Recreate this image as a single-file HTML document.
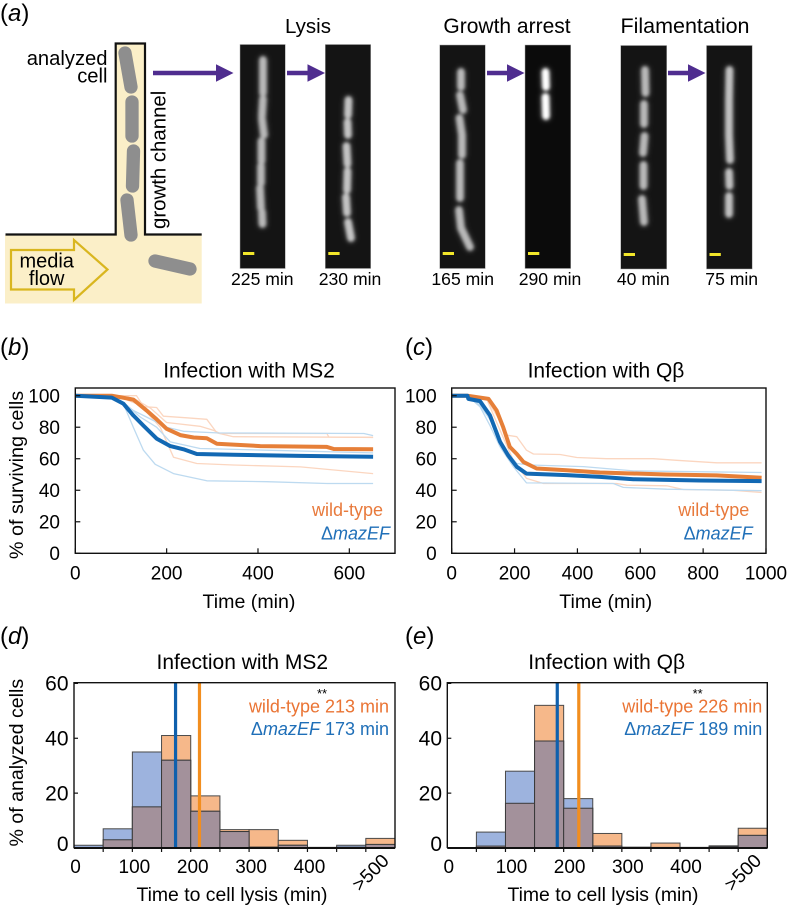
<!DOCTYPE html>
<html lang="en">
<head>
<meta charset="utf-8">
<title>Infection outcome figure</title>
<style>
html,body{margin:0;padding:0;background:#fff;}
svg{display:block;font-family:"Liberation Sans",Arial,sans-serif;}
</style>
</head>
<body>
<svg id="fig" xmlns="http://www.w3.org/2000/svg" width="787" height="906" viewBox="0 0 787 906">
<defs>
<filter id="b1" filterUnits="userSpaceOnUse" x="0" y="0" width="787" height="320"><feGaussianBlur stdDeviation="1.5"/></filter>
<filter id="b2" filterUnits="userSpaceOnUse" x="0" y="0" width="787" height="320"><feGaussianBlur stdDeviation="3"/></filter>
</defs>
<g id="panel-a"></g>
<g id="panel-b"></g>
<g id="panel-c"></g>
<g id="panel-d"></g>
<g id="panel-e"></g>

<text x="0" y="21" font-size="24">(<tspan font-style="italic">a</tspan>)</text>
<text x="0" y="355" font-size="24">(<tspan font-style="italic">b</tspan>)</text>
<text x="405" y="355" font-size="24">(<tspan font-style="italic">c</tspan>)</text>
<text x="0" y="644" font-size="24">(<tspan font-style="italic">d</tspan>)</text>
<text x="405" y="644" font-size="24">(<tspan font-style="italic">e</tspan>)</text>

<text x="308" y="33" font-size="20.5" text-anchor="middle">Lysis</text>
<text x="507" y="33" font-size="21" text-anchor="middle">Growth arrest</text>
<text x="685" y="33" font-size="21.5" text-anchor="middle">Filamentation</text>

<text x="262.3" y="285" font-size="17.6" text-anchor="middle">225 min</text>
<text x="350" y="285" font-size="17.6" text-anchor="middle">230 min</text>
<text x="462.7" y="285" font-size="17.6" text-anchor="middle">165 min</text>
<text x="550" y="285" font-size="17.6" text-anchor="middle">290 min</text>
<text x="643.3" y="285" font-size="17.6" text-anchor="middle">40 min</text>
<text x="731.7" y="285" font-size="17.6" text-anchor="middle">75 min</text>

<text x="107.5" y="65" font-size="20.2" text-anchor="end">analyzed</text>
<text x="107.5" y="82.7" font-size="20.2" text-anchor="end">cell</text>
<text transform="translate(165.7 229) rotate(-90)" font-size="20.4">growth channel</text>
<text x="46.7" y="267.5" font-size="20" text-anchor="middle">media</text>
<text x="46.7" y="285" font-size="20" text-anchor="middle">flow</text>

<text x="249" y="377.7" font-size="21" text-anchor="middle">Infection with MS2</text>
<text x="606" y="377.7" font-size="21" text-anchor="middle">Infection with Qβ</text>
<text x="242.3" y="669" font-size="21" text-anchor="middle">Infection with MS2</text>
<text x="606.7" y="669" font-size="21" text-anchor="middle">Infection with Qβ</text>

<text transform="translate(23 475) rotate(-90)" font-size="19.8" text-anchor="middle">% of surviving cells</text>
<text transform="translate(23 762.7) rotate(-90)" font-size="19.6" text-anchor="middle">% of analyzed cells</text>
<text x="249" y="608" font-size="19.6" text-anchor="middle">Time (min)</text>
<text x="605.7" y="608" font-size="19.6" text-anchor="middle">Time (min)</text>
<text x="232" y="901" font-size="19.4" text-anchor="middle">Time to cell lysis (min)</text>
<text x="603" y="901" font-size="19.4" text-anchor="middle">Time to cell lysis (min)</text>

<text x="383" y="516" font-size="18" fill="#e87a3c" text-anchor="end">wild-type</text>
<text x="390" y="539.3" font-size="18" fill="#1f6fb8" text-anchor="end">Δ<tspan font-style="italic">mazEF</tspan></text>
<text x="749.3" y="516" font-size="18" fill="#e87a3c" text-anchor="end">wild-type</text>
<text x="752.7" y="539.3" font-size="18" fill="#1f6fb8" text-anchor="end">Δ<tspan font-style="italic">mazEF</tspan></text>

<text x="322" y="698" font-size="13" text-anchor="middle">**</text>
<text x="697.7" y="698" font-size="13" text-anchor="middle">**</text>
<text x="389" y="712.7" font-size="18" fill="#ea7434" text-anchor="end">wild-type 213 min</text>
<text x="389" y="735" font-size="18" fill="#1f6fb8" text-anchor="end">Δ<tspan font-style="italic">mazEF</tspan> 173 min</text>
<text x="762.3" y="712.7" font-size="18" fill="#ea7434" text-anchor="end">wild-type 226 min</text>
<text x="762.3" y="735" font-size="18" fill="#1f6fb8" text-anchor="end">Δ<tspan font-style="italic">mazEF</tspan> 189 min</text>
</svg>

<script>
// ---- Panel b (MS2 survival) ----
const msWtTime = [0,80,100,127,156,178,200,230,259,288,310,346,405,551,566,652];
const msWtValue = [100,100,99,97.5,90.7,85,79,75,73.5,73,69.5,69,68,67.5,66.2,66];
const msKoTime = [0,80,105,127,149,178,208,237,266,346,493,652];
const msKoValue = [100,98.8,95,87.5,81,72.8,68,66,63,62.5,61.8,61.2];
const msWtRep1Time = [0,100,134,150,178,193,244,288,310,346,652];
const msWtRep1Value = [100,100,100,93,92.5,87,86,85,76.4,74,73.6];
const msWtRep2Time = [0,100,130,165,200,273,303,317,551,555,652];
const msWtRep2Value = [100,100,98,92,83,80.6,78,76,76,73.8,73.5];
const msWtRep3Time = [0,90,142,186,215,266,346,493,652];
const msWtRep3Value = [100,100,94,80,61,57,56,54.8,50.6];
const msKoRep1Time = [0,91,127,156,200,237,310,632,652];
const msKoRep1Value = [100,98,90.7,86.5,80,77.4,76.4,76,74.7];
const msKoRep2Time = [0,80,113,142,178,208,273,420,652];
const msKoRep2Value = [100,99,94,86.5,80,70.7,66.5,65.4,63.7];
const msKoRep3Time = [0,80,105,127,149,175,215,288,420,551,652];
const msKoRep3Value = [100,99,95,80,65.4,56.5,50.6,46,45.4,44.3,44.3];

// ---- Panel c (Qbeta survival) ----
const qbWtTime = [0,50,117,143,164,185,207,228,270,366,472,684,843,986];
const qbWtValue = [100,100,98,90.7,80,67.5,63,58,53.8,52.7,51.3,50,49.4,48];
const qbKoTime = [0,50,53,90,122,154,180,207,238,366,472,578,790,986];
const qbKoValue = [100,100,98,96.6,87.5,70.7,62,54.9,50.6,49.6,48.5,47,46.2,45.8];
const qbWtRep1Time = [0,60,111,154,175,207,238,260,345,398,493,641,716,843,986];
const qbWtRep1Value = [100,100,98,84,75,74,65.4,63,62.7,60.8,60,60,59,57.4,57.4];
const qbWtRep2Time = [0,60,111,154,196,238,292,525,557,684,737,896,986];
const qbWtRep2Value = [100,100,98,78,59,47.5,44.3,44.3,43.2,42.8,40.5,40,38.6];
const qbKoRep1Time = [0,50,90,132,164,207,249,419,578,986];
const qbKoRep1Value = [100,100,94,82,67.5,57,56,55,52.3,51.3];
const qbKoRep2Time = [0,50,90,122,154,196,238,514,546,684,986];
const qbKoRep2Value = [100,100,93,81,67.5,55,44.7,44.3,41.8,40.7,39.7];

// ---- Panels d, e (histograms) ----
const binStarts = [0,50,100,150,200,250,300,350,400,450,500];
const msHistWt = [0.2,3,15,41,19,6.7,6.7,2.8,0.2,0.3,3.5];
const msHistKo = [1,7,35,32,13.4,6,0.3,1,0.2,1,1.3];
const qbHistWt = [0,0.7,16.3,52,14.5,5.3,0.3,1.8,0.2,0.5,7.2];
const qbHistKo = [0,5.8,28,39,18,0.7,0.2,0.2,0.2,0.8,4.6];
const msMeanWt = 215;
const msMeanKo = 174;
const qbMeanWt = 226;
const qbMeanKo = 189;

// ---- Tick labels ----
const surviveYTicks = [0,20,40,60,80,100];
const msXTicks = [0,200,400,600];
const qbXTicks = [0,200,400,600,800,1000];
const histYTicks = [0,20,40,60];
const histXTicks = [0,100,200,300,400];
const histXMinorTicks = [50,100,150,200,250,300,350,400,450,500];

const NS = 'http://www.w3.org/2000/svg';
function mk(parent, tag, attrs, txt) {
  const e = document.createElementNS(NS, tag);
  for (const k in attrs) e.setAttribute(k, attrs[k]);
  if (txt !== undefined) e.textContent = txt;
  parent.appendChild(e);
  return e;
}
function linear(d0, d1, r0, r1) { return v => r0 + (v - d0) * (r1 - r0) / (d1 - d0); }

function drawCurve(g, x, y, ts, vs, color, w, name) {
  const p = mk(g, 'polyline', {points: ts.map((t, i) => x(t).toFixed(1) + ',' + y(vs[i]).toFixed(1)).join(' '), fill: 'none', stroke: color, 'stroke-width': w, 'stroke-linejoin': 'round'});
  
  
}

function drawSurvival(id, left, right, xMax, xTicks, yLabelRight, light, thick) {
  const g = document.getElementById(id);
  const top = 388, bottom = 553.3;
  const x = linear(0, xMax, left, right);
  const y = linear(0, 100, bottom, 395.7);
  light.forEach(s => drawCurve(g, x, y, s[0], s[1], s[2], 1.3, s[3]));
  thick.forEach(s => drawCurve(g, x, y, s[0], s[1], s[2], 4, s[3]));
  const frame = mk(g, 'rect', {x: left, y: top, width: right - left, height: bottom - top, fill: 'none', stroke: '#111', 'stroke-width': 1.4});
  
  
  xTicks.forEach(v => {
    const t = mk(g, 'line', {x1: x(v), x2: x(v), y1: bottom, y2: bottom - 5, stroke: '#111', 'stroke-width': 1.2});
    
    
    const l = mk(g, 'text', {x: x(v), y: 579.3, 'font-size': 19, 'text-anchor': 'middle'}, String(v));
    
    
  });
  surviveYTicks.forEach(v => {
    const t = mk(g, 'line', {x1: left, x2: left + 5, y1: y(v), y2: y(v), stroke: '#111', 'stroke-width': 1.2});
    
    
    const l = mk(g, 'text', {x: yLabelRight, y: y(v) + 6.8, 'font-size': 19, 'text-anchor': 'end'}, String(v));
    
    
  });
}

function drawHist(id, left, right, labelRight, labelDx, wt, ko, meanWt, meanKo) {
  const g = document.getElementById(id);
  const bottom = 848, top = 682.7;
  const binW = 50;
  const x = linear(0, 550, left, right);
  const y = linear(0, 60, bottom, 683.4);
  binStarts.forEach((b, i) => {
    const r = mk(g, 'rect', {x: x(b), y: y(wt[i]), width: x(b + binW) - x(b), height: bottom - y(wt[i]), fill: '#f6b88a', stroke: '#4a4a4a', 'stroke-width': 1});
    
    
  });
  binStarts.forEach((b, i) => {
    const r = mk(g, 'rect', {x: x(b), y: y(ko[i]), width: x(b + binW) - x(b), height: bottom - y(ko[i]), fill: '#9db3de', stroke: '#4a4a4a', 'stroke-width': 1});
    
    
  });
  binStarts.forEach((b, i) => {
    const h = Math.min(wt[i], ko[i]);
    const r = mk(g, 'rect', {x: x(b), y: y(h), width: x(b + binW) - x(b), height: bottom - y(h), fill: '#a3919b', stroke: '#3a3a3a', 'stroke-width': 1});
    
    
  });
  const m1 = mk(g, 'line', {x1: x(meanKo), x2: x(meanKo), y1: top, y2: bottom, stroke: '#0f60ad', 'stroke-width': 3.2});
  
  
  const m2 = mk(g, 'line', {x1: x(meanWt), x2: x(meanWt), y1: top, y2: bottom, stroke: '#f28e1f', 'stroke-width': 3.2});
  
  
  const frame = mk(g, 'path', {d: 'M' + left + ' ' + bottom + 'V' + top + 'H' + right + 'V' + bottom, fill: 'none', stroke: '#111', 'stroke-width': 1.4});
  
  
  const base = mk(g, 'line', {x1: left, x2: right, y1: bottom, y2: bottom, stroke: '#111', 'stroke-width': 2});
  
  
  histXMinorTicks.forEach(v => {
    const t = mk(g, 'line', {x1: x(v), x2: x(v), y1: bottom, y2: bottom + 4, stroke: '#111', 'stroke-width': 1.2});
    
    
  });
  histXTicks.forEach(v => {
    const l = mk(g, 'text', {x: x(v) + (v === 0 ? 1.5 : labelDx), y: 873, 'font-size': 19, 'text-anchor': 'middle'}, String(v));
    
    
  });
  const over = mk(g, 'text', {transform: 'translate(' + (right - 20) + ' 877) rotate(-45)', 'font-size': 19, 'text-anchor': 'middle'}, '>500');
  
  
  histYTicks.forEach(v => {
    const t = mk(g, 'line', {x1: left, x2: left + 4, y1: y(v), y2: y(v), stroke: '#111', 'stroke-width': 1.2});
    
    
    const l = mk(g, 'text', {x: labelRight, y: y(v) + 7.2 - (v === 0 ? 4 : 0), 'font-size': 21, 'text-anchor': 'end'}, String(v));
    
    
  });
}

const LO = '#fbd6c0', LB = '#bddaf0', TO = '#e67f38', TB = '#1268b3';
drawSurvival('panel-b', 75.3, 395, 700, msXTicks, 60,
  [[msWtRep1Time, msWtRep1Value, LO, 'replicate-wild-type-1'], [msWtRep2Time, msWtRep2Value, LO, 'replicate-wild-type-2'], [msWtRep3Time, msWtRep3Value, LO, 'replicate-wild-type-3'],
   [msKoRep1Time, msKoRep1Value, LB, 'replicate-mazef-1'], [msKoRep2Time, msKoRep2Value, LB, 'replicate-mazef-2'], [msKoRep3Time, msKoRep3Value, LB, 'replicate-mazef-3']],
  [[msWtTime, msWtValue, TO, 'line-wild-type'], [msKoTime, msKoValue, TB, 'line-mazef']]);
drawSurvival('panel-c', 451.7, 766, 1000, qbXTicks, 436.7,
  [[qbWtRep1Time, qbWtRep1Value, LO, 'replicate-wild-type-1'], [qbWtRep2Time, qbWtRep2Value, LO, 'replicate-wild-type-2'],
   [qbKoRep1Time, qbKoRep1Value, LB, 'replicate-mazef-1'], [qbKoRep2Time, qbKoRep2Value, LB, 'replicate-mazef-2']],
  [[qbWtTime, qbWtValue, TO, 'line-wild-type'], [qbKoTime, qbKoValue, TB, 'line-mazef']]);
drawHist('panel-d', 74, 395, 68.5, 2, msHistWt, msHistKo, msMeanWt, msMeanKo);
drawHist('panel-e', 447.3, 767.3, 442, 6, qbHistWt, qbHistKo, qbMeanWt, qbMeanKo);

// ---- Panel a schematic and micrographs ----
const A = document.getElementById('panel-a');
const media = mk(A, 'path', {d: 'M5 235H115.5V43.5H145V235H201.7V303.5H5Z', fill: '#fbefc8'});


const wall = mk(A, 'path', {d: 'M5.5 234.5H115.7V43.5H145V234.5H201.7', fill: 'none', stroke: '#111', 'stroke-width': 2.2});


const flow = mk(A, 'polygon', {points: '11,250 74,250 74,240 107.5,269.5 74,300 74,289.5 11,289.5', fill: 'none', stroke: '#d9b61f', 'stroke-width': 2.2});


[[125,53,131,87],[132,102,132,136],[133.5,151,132.5,186],[127,200,131,235],[155,261,190,269]].forEach(c => {
  const l = mk(A, 'line', {x1: c[0], y1: c[1], x2: c[2], y2: c[3], stroke: '#8e8e8e', 'stroke-width': 13.3, 'stroke-linecap': 'round'});
  
  
});
[[153,233.5],[287,325],[487,524.5],[668,705.5]].forEach(a => {
  const headStart = a[1] - 17.5;
  const s = mk(A, 'polygon', {points: a[0] + ',70.7 ' + headStart + ',70.7 ' + headStart + ',64.3 ' + a[1] + ',73 ' + headStart + ',81.7 ' + headStart + ',75.3 ' + a[0] + ',75.3', fill: '#4f2d8f'});
  
  
});

function micro(x, y, w, h, cells, color, barY, bg, name) {
  const g = mk(A, 'g', {});
  
  
  mk(g, 'rect', {x: x, y: y, width: w, height: h, fill: bg || '#141414', stroke: '#a8a8a8', 'stroke-width': 0.5});
  const hal = mk(g, 'g', {filter: 'url(#b2)', opacity: 0.25});
  const cg = mk(g, 'g', {filter: 'url(#b1)'});
  cells.forEach(c => {
    mk(hal, 'polyline', {points: c.join(' '), fill: 'none', stroke: color, 'stroke-width': 10, 'stroke-linecap': 'round'});
    mk(cg, 'polyline', {points: c.join(' '), fill: 'none', stroke: color, 'stroke-width': 7.5, 'stroke-linecap': 'round'});
  });
  mk(g, 'rect', {x: x + 3, y: barY, width: 11.3, height: 3, fill: '#f2e62a'});
}
micro(240, 44.5, 45.3, 224, [[[263,60],[263,93]],[[263,99],[262,116]],[[262,119],[264,135]],[[261.5,141],[261.5,161]],[[261,166],[261,183]],[[260,188],[261,208]],[[262,212],[262.5,224]]], '#b8b8b8', 252, null, 'micrograph-225-min');
micro(325.3, 44.5, 45.4, 224, [[[348.5,100],[348,115]],[[347.5,122],[348,135]],[[346.5,146],[347.5,164]],[[347.5,171],[347,190]],[[346,197],[347,213]],[[348,222],[351,238]]], '#c4c4c4', 252, null, 'micrograph-230-min');
micro(439.7, 45, 45.6, 223.5, [[[461,72],[461,87]],[[460,95],[463,110]],[[459.5,118],[462,135],[462,155]],[[460,163],[460,198]],[[459,210],[461,228],[470,247]]], '#b8b8b8', 252, null, 'micrograph-165-min');
micro(525, 45, 45.7, 223.5, [[[545.5,72],[546,87]],[[545.5,97],[546,116]]], '#ffffff', 252, '#0b0b0b', 'micrograph-290-min');
micro(620.7, 45.5, 46, 223.5, [[[645,70],[645.5,93]],[[644,104],[644,124]],[[644.5,136],[643,153]],[[643.5,165],[643.5,186]],[[642,199],[644,222]]], '#b8b8b8', 253, null, 'micrograph-40-min');
micro(706.5, 45.5, 45.7, 223.5, [[[729.5,70],[729,100],[729,135],[730,160]],[[729,172],[729.5,186]],[[729,196],[729,214]]], '#c0c0c0', 253, null, 'micrograph-75-min');
</script>
</body>
</html>
